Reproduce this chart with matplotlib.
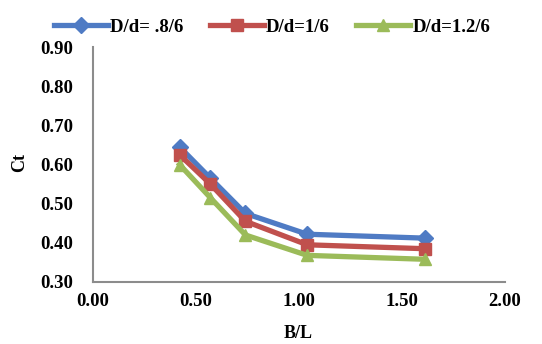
import matplotlib
matplotlib.use("Agg")
import matplotlib.pyplot as plt

x_bl = [0.42, 0.57, 0.74, 1.04, 1.61]
ct_08 = [0.645, 0.565, 0.475, 0.422, 0.412]
ct_10 = [0.625, 0.550, 0.455, 0.395, 0.385]
ct_12 = [0.600, 0.515, 0.420, 0.368, 0.358]
labels = ["D/d= .8/6", "D/d=1/6", "D/d=1.2/6"]
xticks = [0.0, 0.5, 1.0, 1.5, 2.0]
yticks = [0.3, 0.4, 0.5, 0.6, 0.7, 0.8, 0.9]

plt.rcParams['font.family'] = ['Liberation Serif', 'DejaVu Serif']
plt.rcParams['font.weight'] = 'bold'

fig = plt.figure(figsize=(5.42, 3.44), dpi=100)
ax = fig.add_axes([93/542, 1-282/344, (505-93)/542, (282-47)/344])

ax.plot(x_bl, ct_08, color='#4F7BC4', lw=3.8, marker='D', ms=8, label=labels[0])
ax.plot(x_bl, ct_10, color='#C0504D', lw=3.8, marker='s', ms=8, label=labels[1])
ax.plot(x_bl, ct_12, color='#9BBB59', lw=3.8, marker='^', ms=9, label=labels[2])

ax.set_xlim(0, 2)
ax.set_ylim(0.3, 0.9)
ax.set_xticks(xticks)
ax.set_xticklabels([f"{v:.2f}" for v in xticks])
ax.set_yticks(yticks)
ax.set_yticklabels([f"{v:.2f}" for v in yticks])
ax.tick_params(length=0, labelsize=13.5)
ax.tick_params(axis='y', pad=14)
ax.tick_params(axis='x', pad=8)
for s in ['top', 'right']:
    ax.spines[s].set_visible(False)
for s in ['left', 'bottom']:
    ax.spines[s].set_color('#8C8C8C')
    ax.spines[s].set_linewidth(1.5)

fig.text(20/542, 1-163/344, "Ct", rotation=90, ha='center', va='center', fontsize=13, fontweight='bold')
fig.text(298/542, 1-333/344, "B/L", ha='center', va='center', fontsize=13, fontweight='bold')

fig.legend(loc='center', bbox_to_anchor=(272/542, 1-27/344), ncol=3, frameon=False,
           fontsize=13.5, handlelength=2.9, handletextpad=0.1, columnspacing=1.4)

fig.savefig("out.png", dpi=100)
